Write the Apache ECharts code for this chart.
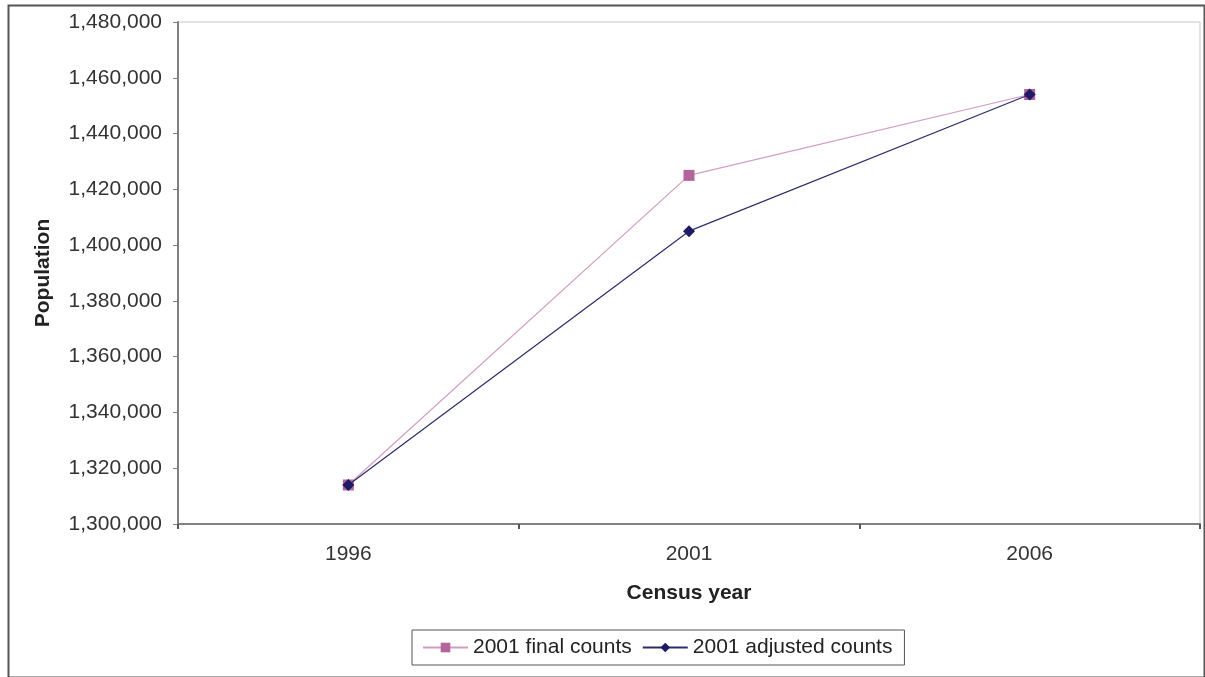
<!DOCTYPE html>
<html>
<head>
<meta charset="utf-8">
<script src="https://cdn.jsdelivr.net/npm/echarts@6/dist/echarts.min.js"></script>
<style>
html,body{margin:0;padding:0;background:#fff;}
#chart{width:1205px;height:677px;}
</style>
</head>
<body>
<div id="chart"></div>
<script>
var categories = ['1996', '2001', '2006'];
var finalCounts = [1314000, 1425000, 1454000];
var adjustedCounts = [1314000, 1405000, 1454000];
var seriesNames = ['2001 final counts', '2001 adjusted counts'];
var yMin = 1300000, yMax = 1480000, yStep = 20000;

var FONT = '"Liberation Sans", Arial, sans-serif';
var chart = echarts.init(document.getElementById('chart'), null, {renderer: 'canvas'});
chart.setOption({
  backgroundColor: '#ffffff',
  animation: false,
  graphic: [{
    type: 'rect', left: 6, top: 3, z: -1,
    shape: {width: 1196, height: 672},
    style: {fill: 'none', stroke: '#555555', lineWidth: 2}
  }],
  grid: {left: 178, right: 5, top: 22, bottom: 153, show: true, borderColor: '#c8c8c8', borderWidth: 1, backgroundColor: '#ffffff'},
  legend: {
    left: 412, top: 630,
    padding: [7, 12, 7, 10],
    borderColor: '#555555', borderWidth: 1,
    itemWidth: 45, itemHeight: 12, itemGap: 10,
    textStyle: {fontFamily: FONT, fontSize: 21, color: '#222222'},
    data: seriesNames
  },
  xAxis: {
    type: 'category',
    data: categories,
    boundaryGap: true,
    name: 'Census year',
    nameLocation: 'middle',
    nameGap: 59,
    nameTextStyle: {fontFamily: FONT, fontSize: 21, fontWeight: 'bold', color: '#222222'},
    axisLine: {lineStyle: {color: '#808080', width: 2}},
    axisTick: {show: true, alignWithLabel: false, length: 5, lineStyle: {color: '#555555', width: 2}},
    axisLabel: {fontFamily: FONT, fontSize: 21, color: '#333333', margin: 20},
    splitLine: {show: false}
  },
  yAxis: {
    type: 'value',
    min: yMin, max: yMax, interval: yStep,
    name: 'Population',
    nameLocation: 'middle',
    nameGap: 124,
    nameRotate: 90,
    nameTextStyle: {fontFamily: FONT, fontSize: 21, fontWeight: 'bold', color: '#222222'},
    axisLine: {show: true, lineStyle: {color: '#808080', width: 2}},
    axisTick: {show: true, length: 5, lineStyle: {color: '#808080', width: 1}},
    axisLabel: {
      fontFamily: FONT, fontSize: 21, color: '#333333', margin: 16,
      formatter: function (v) { return v.toLocaleString('en-US'); }
    },
    splitLine: {show: false}
  },
  series: [{
    name: seriesNames[0],
    type: 'line',
    data: finalCounts,
    symbol: 'rect',
    symbolSize: 11,
    itemStyle: {color: '#b5639c'},
    lineStyle: {color: '#d39cc3', width: 1.2},
    z: 2
  }, {
    name: seriesNames[1],
    type: 'line',
    data: adjustedCounts,
    symbol: 'diamond',
    symbolSize: 12,
    itemStyle: {color: '#1f1a66'},
    lineStyle: {color: '#2c2c6c', width: 1.2},
    z: 3
  }]
});
</script>
</body>
</html>
